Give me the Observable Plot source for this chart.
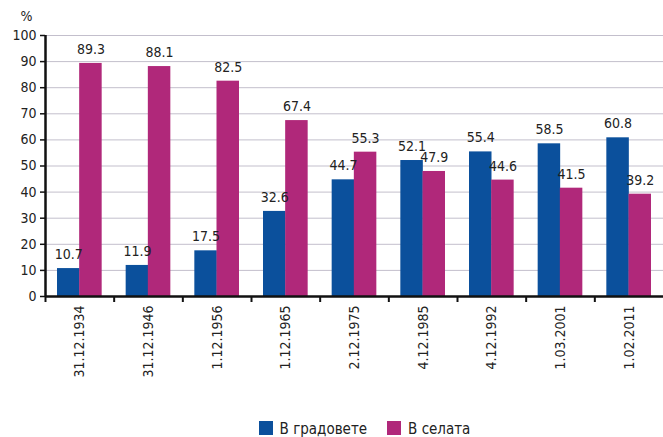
<!DOCTYPE html>
<html>
<head>
<meta charset="utf-8">
<script src="https://cdn.jsdelivr.net/npm/d3@7"></script>
<script src="https://cdn.jsdelivr.net/npm/@observablehq/plot@0.6"></script>
<style>
  body { margin: 0; background: #fff; font-family: "Liberation Sans Narrow", "DejaVu Sans Condensed", sans-serif; }
  #legend { display: flex; justify-content: center; align-items: center; gap: 20px; padding-left: 66px; padding-top: 6px; font-size: 15px; color: #222; height: 22px; }
  #legend span.sw { display: inline-block; width: 14px; height: 14px; margin-right: 7px; vertical-align: -1px; }
</style>
</head>
<body>
<div id="chart"></div>
<div id="legend"></div>
<script>
const dates = ["31.12.1934","31.12.1946","1.12.1956","1.12.1965","2.12.1975","4.12.1985","4.12.1992","1.03.2001","1.02.2011"];
const towns = [10.7, 11.9, 17.5, 32.6, 44.7, 52.1, 55.4, 58.5, 60.8];
const villages = [89.3, 88.1, 82.5, 67.4, 55.3, 47.9, 44.6, 41.5, 39.2];
const seriesNames = ["В градовете", "В селата"];
const colors = ["#0b509c", "#b0287a"];
const yTicks = d3.range(0, 101, 10);

const W = 663, H = 412, mL = 45, mR = 0, mT = 35, mB = 116;
const band = (W - mL - mR) / dates.length;
const barW = 22.5, edge = 12;

const rows = [];
dates.forEach((d, i) => {
  rows.push({date: d, series: seriesNames[0], value: towns[i]});
  rows.push({date: d, series: seriesNames[1], value: villages[i]});
});
const tRows = rows.filter(r => r.series === seriesNames[0]);
const vRows = rows.filter(r => r.series === seriesNames[1]);
const inner = band - edge - barW;

const chart = Plot.plot({
  width: W, height: H,
  marginLeft: mL, marginRight: mR, marginTop: mT, marginBottom: mB,
  style: {fontFamily: "'Liberation Sans Narrow', 'DejaVu Sans Condensed', sans-serif", fontSize: "14px", color: "#222"},
  x: {domain: dates, padding: 0, round: false, label: null},
  y: {domain: [0, 100], label: null},
  marks: [
    Plot.gridY(yTicks, {stroke: "#c3bfcc", strokeOpacity: 1, strokeWidth: 1}),
    Plot.barY(tRows, {x: "date", y: "value", fill: colors[0], insetLeft: edge, insetRight: inner}),
    Plot.barY(vRows, {x: "date", y: "value", fill: colors[1], insetLeft: inner, insetRight: edge}),
    Plot.text(tRows, {x: "date", y: "value", text: d => d.value.toFixed(1), dx: -(band/2 - edge - barW/2), dy: -14, fontSize: 14, fill: "#222"}),
    Plot.text(vRows, {x: "date", y: "value", text: d => d.value.toFixed(1), dx: (band/2 - edge - barW/2), dy: -14, fontSize: 14, fill: "#222"}),
    Plot.axisY(yTicks, {tickSize: 5, tickPadding: 4, stroke: "#111", strokeWidth: 1.5, fontSize: 14, label: null}),
    Plot.axisX({tickSize: 6, tickFormat: () => "", dx: -band/2, stroke: "#111", strokeWidth: 2, label: null}),
    Plot.axisX({tickSize: 0, tickRotate: -90, tickPadding: 9, fontSize: 14, label: null}),
    Plot.ruleX([0], {x: () => dates[0], dx: -band/2, stroke: "#111", strokeWidth: 2.5}),
    Plot.ruleY([0], {stroke: "#111", strokeWidth: 2.5}),
    Plot.text(["%"], {frameAnchor: "top-left", dx: -25, dy: -24, fontSize: 14, fill: "#222"})
  ]
});
document.getElementById("chart").appendChild(chart);

const lg = document.getElementById("legend");
seriesNames.forEach((s, i) => {
  const it = document.createElement("div");
  it.innerHTML = `<span class="sw" style="background:${colors[i]}"></span>${s}`;
  lg.appendChild(it);
});
</script>
</body>
</html>
